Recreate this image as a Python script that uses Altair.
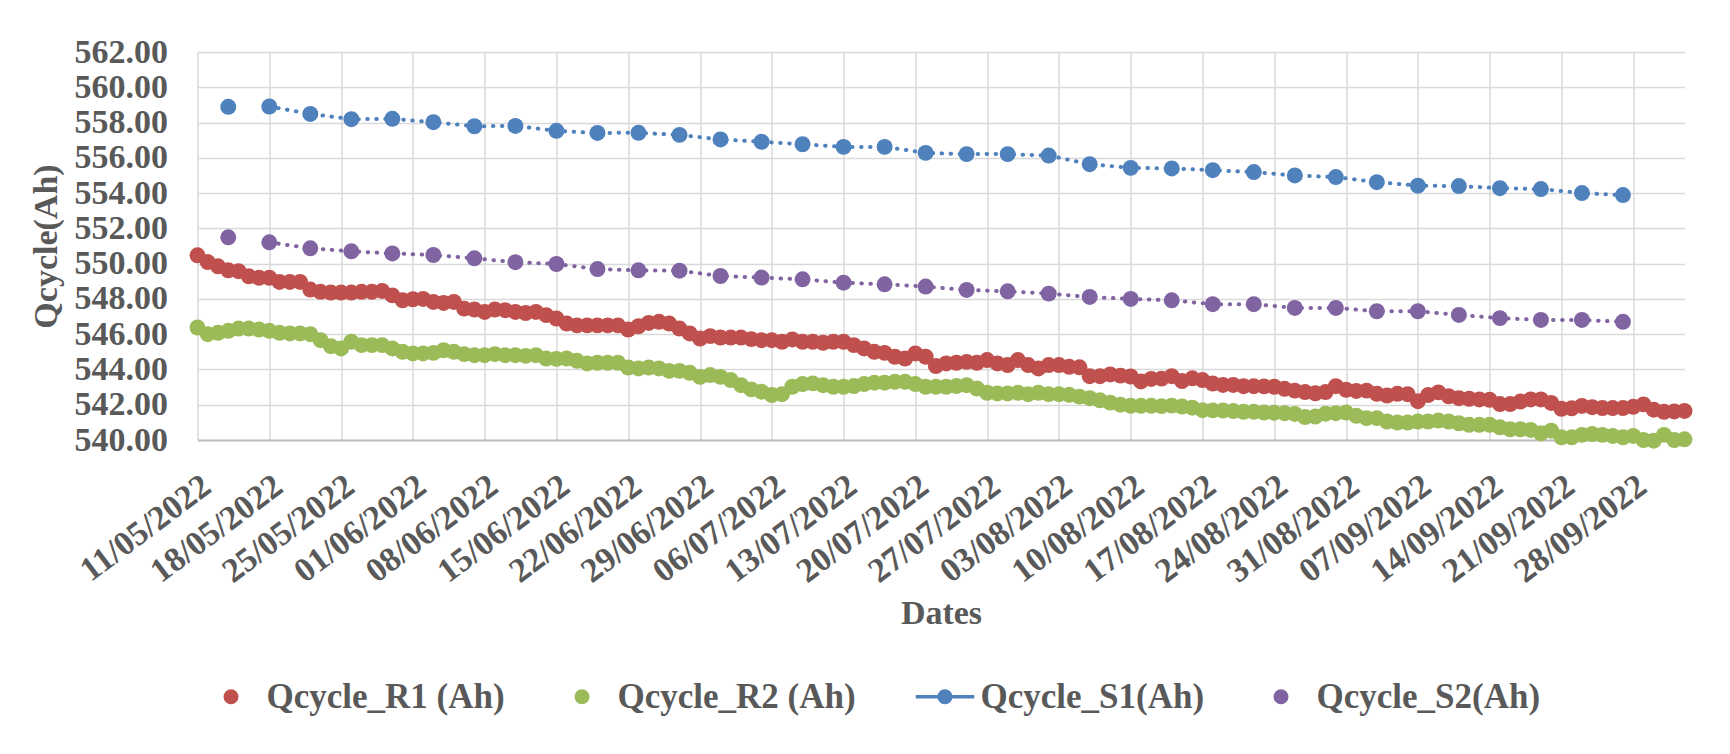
import altair as alt
import pandas as pd

# ---------------- data ----------------
series_names = ["Qcycle_R1 (Ah)", "Qcycle_R2 (Ah)", "Qcycle_S1(Ah)", "Qcycle_S2(Ah)"]
series_colors = ["#C0504D", "#9BBB59", "#4F81BD", "#8064A2"]

r_start = "2022-05-11"   # daily readings
s_start = "2022-05-14"   # every 4 days

r1 = [550.47, 550.09, 549.85, 549.62, 549.57, 549.28, 549.20, 549.20, 548.96, 548.96,
      548.96, 548.53, 548.40, 548.36, 548.36, 548.36, 548.40, 548.40, 548.45, 548.20,
      547.92, 547.98, 548.00, 547.83, 547.77, 547.83, 547.45, 547.40, 547.26, 547.40,
      547.36, 547.26, 547.20, 547.26, 547.08, 546.89, 546.60, 546.50, 546.50, 546.50,
      546.50, 546.50, 546.26, 546.45, 546.64, 546.70, 546.60, 546.32, 546.04, 545.75,
      545.89, 545.81, 545.81, 545.81, 545.72, 545.66, 545.66, 545.57, 545.70, 545.57,
      545.57, 545.51, 545.57, 545.57, 545.38, 545.19, 545.00, 544.94, 544.72, 544.62,
      544.91, 544.72, 544.19, 544.34, 544.38, 544.43, 544.38, 544.53, 544.34, 544.25,
      544.53, 544.25, 544.06, 544.25, 544.25, 544.15, 544.12, 543.62, 543.62, 543.72,
      543.65, 543.60, 543.32, 543.46, 543.48, 543.62, 543.34, 543.50, 543.40, 543.20,
      543.12, 543.12, 543.05, 543.05, 543.04, 543.02, 542.90, 542.80, 542.72, 542.65,
      542.72, 543.05, 542.85, 542.78, 542.80, 542.62, 542.52, 542.62, 542.60, 542.20,
      542.55, 542.70, 542.48, 542.37, 542.34, 542.30, 542.28, 542.04, 542.04, 542.18,
      542.30, 542.30, 542.10, 541.77, 541.80, 541.93, 541.86, 541.81, 541.81, 541.81,
      541.88, 542.02, 541.72, 541.60, 541.62, 541.65]

r2 = [546.38, 546.00, 546.08, 546.19, 546.32, 546.32, 546.26, 546.19, 546.08, 546.04,
      546.04, 546.00, 545.66, 545.32, 545.19, 545.57, 545.38, 545.38, 545.38, 545.19,
      545.00, 544.91, 544.91, 544.94, 545.09, 545.00, 544.87, 544.81, 544.81, 544.87,
      544.81, 544.81, 544.77, 544.81, 544.62, 544.60, 544.62, 544.49, 544.34, 544.38,
      544.38, 544.38, 544.11, 544.06, 544.11, 544.06, 543.92, 543.92, 543.81, 543.58,
      543.68, 543.58, 543.40, 543.11, 542.87, 542.74, 542.55, 542.60, 543.02, 543.17,
      543.21, 543.11, 543.02, 543.02, 543.06, 543.17, 543.25, 543.25, 543.30, 543.30,
      543.17, 543.02, 543.02, 543.02, 543.06, 543.11, 542.92, 542.68, 542.64, 542.64,
      542.68, 542.60, 542.68, 542.60, 542.60, 542.56, 542.46, 542.37, 542.25, 542.12,
      542.00, 541.94, 541.94, 541.94, 541.92, 541.95, 541.90, 541.83, 541.69, 541.68,
      541.67, 541.64, 541.60, 541.60, 541.56, 541.55, 541.52, 541.48, 541.30, 541.33,
      541.49, 541.52, 541.56, 541.37, 541.24, 541.24, 541.05, 540.99, 540.99, 541.05,
      541.05, 541.10, 541.05, 540.95, 540.86, 540.86, 540.86, 540.72, 540.61, 540.61,
      540.57, 540.38, 540.53, 540.15, 540.15, 540.29, 540.34, 540.29, 540.23, 540.15,
      540.23, 540.00, 539.96, 540.29, 540.00, 540.04]

s1 = [558.89, 558.91, 558.49, 558.19, 558.21, 558.02, 557.79, 557.81, 557.53, 557.41,
      557.42, 557.30, 557.04, 556.91, 556.77, 556.62, 556.62, 556.28, 556.21, 556.21,
      556.13, 555.64, 555.43, 555.40, 555.30, 555.19, 555.00, 554.91, 554.62, 554.42,
      554.40, 554.28, 554.23, 554.00, 553.89]

s2 = [551.49, 551.21, 550.87, 550.70, 550.58, 550.49, 550.30, 550.08, 549.98, 549.69,
      549.62, 549.60, 549.30, 549.21, 549.11, 548.92, 548.83, 548.70, 548.51, 548.43,
      548.30, 548.11, 548.00, 547.92, 547.70, 547.70, 547.49, 547.49, 547.30, 547.30,
      547.09, 546.91, 546.81, 546.81, 546.70]

tick_labels = ["11/05/2022", "18/05/2022", "25/05/2022", "01/06/2022", "08/06/2022",
               "15/06/2022", "22/06/2022", "29/06/2022", "06/07/2022", "13/07/2022",
               "20/07/2022", "27/07/2022", "03/08/2022", "10/08/2022", "17/08/2022",
               "24/08/2022", "31/08/2022", "07/09/2022", "14/09/2022", "21/09/2022",
               "28/09/2022"]
x_domain = ["11/05/2022", "03/10/2022"]
y_ticks = [540, 542, 544, 546, 548, 550, 552, 554, 556, 558, 560, 562]

# legend symbols: S1 drawn as line + marker, the others as a marker only
s1_path = "M-3.9,-0.24H3.9V0.24H-3.9Z M-1,0A1,1 0 1,1 1,0A1,1 0 1,1 -1,0Z"
legend_shapes = ["circle", "circle", s1_path, "circle"]

# ---------------- build table ----------------
fmt = "%Y-%m-%dT%H:%M:%S"
r_dates = pd.date_range(r_start, periods=len(r1), freq="D").strftime(fmt)
s_dates = pd.date_range(s_start, periods=len(s1), freq="4D").strftime(fmt)

rows = []
for name, dates, vals in [(series_names[0], r_dates, r1), (series_names[1], r_dates, r2),
                          (series_names[2], s_dates, s1), (series_names[3], s_dates, s2)]:
    for i, (d, v) in enumerate(zip(dates, vals)):
        rows.append({"date": d, "value": v, "series": name, "idx": i})
df = pd.DataFrame(rows)


def to_dt(s):
    d, m, y = s.split("/")
    return alt.DateTime(year=int(y), month=int(m), date=int(d))


tick_dt = [to_dt(t) for t in tick_labels]
dom_dt = [to_dt(t) for t in x_domain]

FONT = "Liberation Serif"
TXT = "#595959"
GRID = "#d9d9d9"

x_enc = alt.X(
    "date:T",
    scale=alt.Scale(domain=dom_dt),
    axis=alt.Axis(
        values=tick_dt, format="%d/%m/%Y", labelAngle=-37, labelAlign="right",
        labelBaseline="middle", labelPadding=42, labelOffset=9, ticks=False,
        labelOverlap=False, labelFlush=False, grid=True, gridColor=GRID, gridWidth=1.5,
        domainColor="#bfbfbf", domainWidth=2, title="Dates", titleY=173,
        titleBaseline="middle", labelLimit=400,
    ),
)
y_enc = alt.Y(
    "value:Q",
    scale=alt.Scale(domain=[540, 562], nice=False, zero=False),
    axis=alt.Axis(
        values=y_ticks, format=".2f", ticks=False, domain=False, labelPadding=30,
        grid=True, gridColor=GRID, gridWidth=1.5, title="Qcycle(Ah)",
        titleX=-151, titleY=194, titleAngle=-90, titleBaseline="middle",
        titleAlign="center",
    ),
)

color_scale = alt.Scale(domain=series_names, range=series_colors)
legend = alt.Legend(
    title=None, orient="none", legendX=16, legendY=627, direction="horizontal",
    columns=4, symbolSize=225, symbolStrokeWidth=0, symbolOpacity=1,
    labelOffset=18, columnPadding=59, labelLimit=400,
)

base = alt.Chart(df)

lines = []
for name, col in [(series_names[2], series_colors[2]), (series_names[3], series_colors[3])]:
    lines.append(
        base.transform_filter(
            (alt.datum.series == name) & (alt.datum.idx > 0)
        ).mark_line(
            color=col, strokeWidth=4, strokeDash=[0.5, 8.5], strokeCap="round"
        ).encode(x=x_enc, y=y_enc, order="date:T")
    )

points = base.mark_circle(size=255, opacity=1).encode(
    x=x_enc,
    y=y_enc,
    color=alt.Color("series:N", scale=color_scale, legend=legend),
)

# shape-only layer (no rows survive the filter); its legend merges with the colour one
legend_layer = base.transform_filter("datum.idx < 0").mark_point(
    filled=True, opacity=1, size=225
).encode(
    x=x_enc,
    y=y_enc,
    color=alt.Color("series:N", scale=color_scale, legend=legend),
    shape=alt.Shape("series:N", scale=alt.Scale(domain=series_names, range=legend_shapes),
                    legend=legend),
)

chart = alt.layer(*lines, points, legend_layer).properties(
    width=1487,
    height=388,
    autosize=alt.AutoSizeParams(type="none"),
    padding={"left": 189.5, "top": 44, "right": 30, "bottom": 300},
).configure_view(stroke="transparent").configure_axis(
    labelFont=FONT, labelFontSize=34, labelFontWeight="bold", labelColor=TXT,
    titleFont=FONT, titleFontSize=34, titleFontWeight="bold", titleColor=TXT,
).configure_legend(
    labelFont=FONT, labelFontSize=35, labelFontWeight="bold", labelColor=TXT,
    padding=0,
)

chart.save("out.html", embed_options={"renderer": "svg", "actions": False})
